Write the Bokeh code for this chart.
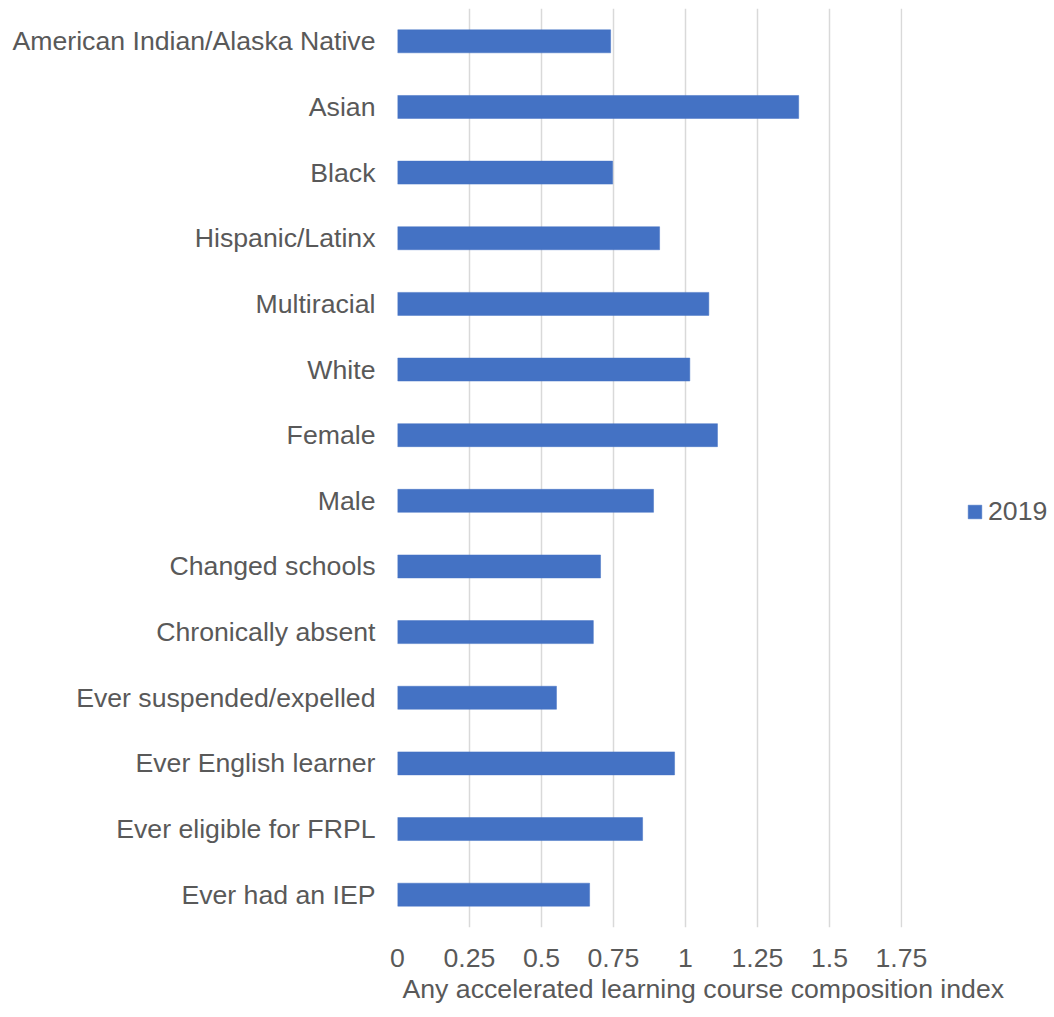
from bokeh.plotting import figure
from bokeh.models import ColumnDataSource, FactorRange, Range1d, FixedTicker, Legend, LegendItem, Title
from bokeh.embed import file_html
from bokeh.resources import INLINE

categories = [
    "American Indian/Alaska Native", "Asian", "Black", "Hispanic/Latinx",
    "Multiracial", "White", "Female", "Male", "Changed schools",
    "Chronically absent", "Ever suspended/expelled", "Ever English learner",
    "Ever eligible for FRPL", "Ever had an IEP",
]
values_2019 = [0.740, 1.393, 0.747, 0.910, 1.081, 1.015, 1.111, 0.889,
               0.705, 0.680, 0.552, 0.962, 0.851, 0.667]
x_ticks = [0, 0.25, 0.5, 0.75, 1, 1.25, 1.5, 1.75]
x_tick_labels = ["0", "0.25", "0.5", "0.75", "1", "1.25", "1.5", "1.75"]
series_name = "2019"
x_title = "Any accelerated learning course composition index"

FONT = "Liberation Sans"
TXT = "#595959"
BAR = "#4472C4"

source = ColumnDataSource(dict(cat=categories, val=values_2019))

p = figure(
    y_range=FactorRange(factors=list(reversed(categories))),
    x_range=Range1d(0, 1.75 * 505 / 504),
    frame_width=505, frame_height=919,
    min_border_left=397, min_border_right=152, min_border_top=8, min_border_bottom=90,
    output_backend="svg", toolbar_location=None,
)
p.outline_line_color = None
p.background_fill_color = "white"
p.border_fill_color = "white"

r = p.hbar(y="cat", right="val", left=0, height=0.35, source=source,
           fill_color=BAR, line_color=BAR, line_width=0.5)

# x axis
xa = p.xaxis[0]
xa.ticker = FixedTicker(ticks=x_ticks)
xa.major_label_overrides = {t: s for t, s in zip(x_ticks, x_tick_labels)}
xa.axis_line_color = None
xa.major_tick_line_color = None
xa.minor_tick_line_color = None
xa.major_tick_out = 0
xa.major_label_standoff = 21
xa.major_label_text_font = FONT
xa.major_label_text_font_size = "20pt"
xa.major_label_text_color = TXT

# x axis title, left-aligned a little right of the frame start
t = Title(text=x_title, align="left", offset=5, standoff=4,
          text_font=FONT, text_font_size="20pt", text_font_style="normal",
          text_color=TXT)
p.add_layout(t, "below")

# y axis
ya = p.yaxis[0]
ya.axis_line_color = None
ya.major_tick_line_color = None
ya.minor_tick_line_color = None
ya.major_tick_out = 0
ya.major_label_standoff = 22
ya.major_label_text_font = FONT
ya.major_label_text_font_size = "20pt"
ya.major_label_text_color = TXT

p.xgrid.grid_line_color = "#D9D9D9"
p.xgrid.grid_line_width = 1.5
p.ygrid.grid_line_color = None

legend = Legend(items=[LegendItem(label=series_name, renderers=[r])],
                location=(64, 400), padding=0, margin=0, spacing=0,
                glyph_width=17, glyph_height=17, label_standoff=5,
                label_text_font=FONT, label_text_font_size="20pt",
                label_text_color=TXT, border_line_color=None,
                background_fill_alpha=0)
p.add_layout(legend, "right")

open("out.html", "w").write(file_html(p, INLINE))
